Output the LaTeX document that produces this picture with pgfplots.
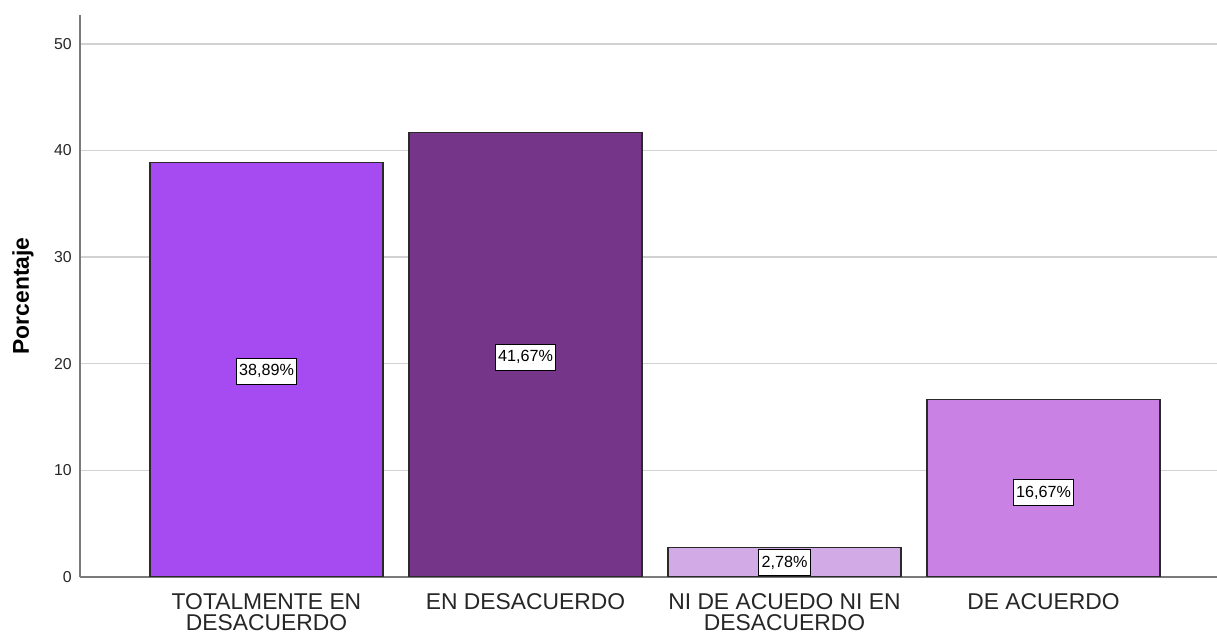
\documentclass[border=0pt]{standalone}
\usepackage{fontspec}
\setmainfont{Liberation Sans}
\usepackage{pgfplots}
\pgfplotsset{compat=1.18}
\definecolor{barA}{HTML}{A64BF2}
\definecolor{barB}{HTML}{753689}
\definecolor{barC}{HTML}{D1AAE6}
\definecolor{barD}{HTML}{C981E3}
\definecolor{gridc}{HTML}{D2D2D2}
\definecolor{axisc}{HTML}{7A7A7A}
\definecolor{edgec}{HTML}{2A2A2A}

\begin{document}
\begin{tikzpicture}
\begin{axis}[
	scale only axis,
	width=227.4mm, height=112.4mm,
	xmin=-0.72, xmax=3.67,
	ymin=0, ymax=52.7,
	axis lines*=left,
	axis line style={color=axisc, line width=0.35mm},
	major tick length=0pt,
	ytick={0,10,...,50},
	ymajorgrids,
	grid style={color=gridc, line width=0.3mm},
	xtick={0,1,2,3},
	xticklabels={{TOTALMENTE EN\\DESACUERDO}, {EN DESACUERDO}, {NI DE ACUEDO NI EN\\DESACUERDO}, {DE ACUERDO}},
	xticklabel style={align=center, anchor=north, inner sep=0pt, yshift=-3.2mm,
		font=\fontsize{13}{12.1}\selectfont, text=black!85},
	yticklabel style={font=\fontsize{9}{10}\selectfont, inner xsep=1.6mm, text=black!85},
	/pgf/number format/assume math mode=true,
	ylabel={Porcentaje},
	ylabel style={font=\bfseries\fontsize{13}{15}\selectfont, at={(axis description cs:0,0.5)},
		anchor=center, inner sep=0pt, yshift=11.4mm},
	bar width=0.9,
]
\addplot[ybar, bar shift=0pt, fill=barA, draw=edgec, line width=0.25mm] coordinates {(0,38.89)};
\addplot[ybar, bar shift=0pt, fill=barB, draw=edgec, line width=0.25mm] coordinates {(1,41.67)};
\addplot[ybar, bar shift=0pt, fill=barC, draw=edgec, line width=0.25mm] coordinates {(2,2.78)};
\addplot[ybar, bar shift=0pt, fill=barD, draw=edgec, line width=0.25mm] coordinates {(3,16.67)};
% value labels, centred at half bar height
\addplot[draw=none, mark=none, point meta=explicit symbolic,
	nodes near coords={\pgfplotspointmeta\%},
	nodes near coords align={center},
	every node near coord/.style={anchor=center, draw=black, line width=0.2mm, fill=white,
		font=\fontsize{9.2}{10}\selectfont, inner xsep=0.6mm, inner ysep=0pt, minimum height=5.2mm}]
	table[meta=lab] {
x y lab
0 19.3 38,89
1 20.6 41,67
2 1.35 2,78
3 7.9 16,67
};
\end{axis}
\path (current axis.south west) ++(-16mm,-11.6mm) coordinate (bbA);
\path (current axis.north east) ++(0,3mm) coordinate (bbB);
\pgfresetboundingbox
\path (bbA) rectangle (bbB);
\end{tikzpicture}
\end{document}
